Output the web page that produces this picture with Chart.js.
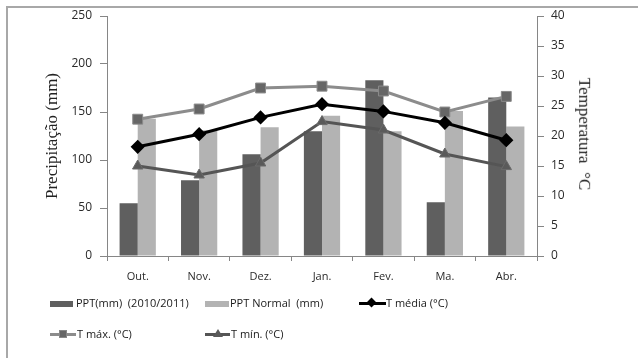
<!DOCTYPE html>
<html>
<head>
<meta charset="utf-8">
<script src="https://cdn.jsdelivr.net/npm/chart.js@4/dist/chart.umd.min.js"></script>
<style>
  html, body { margin: 0; padding: 0; background: #fff; }
  #wrap { position: relative; width: 638px; height: 358px; overflow: hidden; background: #fff; }
  #frame { position: absolute; left: 6px; top: 6px; width: 700px; height: 400px;
           border-top: 2px solid #a8a8a8; border-left: 2px solid #a8a8a8; box-sizing: border-box; }
  canvas { position: absolute; left: 0; top: 0; }
  .axis-title { position: absolute; font-family: "Liberation Serif", serif; font-size: 17px;
                color: #222; white-space: pre; transform-origin: center center; }
  .leg { position: absolute; font-family: "Open Sans", sans-serif; font-size: 11px; color: #1a1a1a;
         white-space: pre; line-height: 14px; }
  .sym { position: absolute; }
</style>
</head>
<body>
<div id="wrap">
  <div id="frame"></div>
  <canvas id="c" width="638" height="358"></canvas>

  <div class="axis-title" id="tLeft">Precipitação (mm)</div>
  <div class="axis-title" id="tRight">Temperatura  °C</div>

  <!-- legend row 1 -->
  <div class="sym" style="left:50px; top:301px; width:23px; height:6px; background:#5f5f5f;"></div>
  <div class="leg" style="left:76px; top:296px;">PPT(mm)  (2010/2011)</div>
  <div class="sym" style="left:205px; top:301px; width:24px; height:6px; background:#b3b3b3;"></div>
  <div class="leg" style="left:230px; top:296px;">PPT Normal  (mm)</div>
  <div class="sym" style="left:359px; top:302px; width:27px; height:3px; background:#000;"></div>
  <div class="sym" style="left:368px; top:299px; width:7px; height:7px; background:#000; transform:rotate(45deg);"></div>
  <div class="leg" style="left:386px; top:296px;">T média (°C)</div>

  <!-- legend row 2 -->
  <div class="sym" style="left:50px; top:333px; width:26px; height:3px; background:#8c8c8c;"></div>
  <div class="sym" style="left:59px; top:330px; width:8px; height:8px; background:#666; border:1px solid #888; box-sizing:border-box;"></div>
  <div class="leg" style="left:77px; top:327px;">T máx. (°C)</div>
  <div class="sym" style="left:205px; top:333px; width:25px; height:3px; background:#555;"></div>
  <div class="sym" style="left:213px; top:329px; width:0; height:0; border-left:5px solid transparent; border-right:5px solid transparent; border-bottom:8px solid #5a5a5a;"></div>
  <div class="leg" style="left:231px; top:327px;">T mín. (°C)</div>
</div>

<script>
// Months of the 2010/2011 season
const categories = ['Out.', 'Nov.', 'Dez.', 'Jan.', 'Fev.', 'Ma.', 'Abr.'];

// Precipitation (mm)
const pptSeason = [55, 79, 106, 130, 183, 56, 165];
const pptNormal = [143, 131, 134, 146, 130, 151, 135];

// Temperatures (°C)
const tMedia = [18.2, 20.3, 23.1, 25.3, 24.1, 22.2, 19.3];
const tMax = [22.8, 24.5, 28.0, 28.3, 27.5, 24.0, 26.6];
const tMin = [15.0, 13.5, 15.5, 22.4, 21.0, 17.0, 14.9];

// Axis tick values
const precipTicks = [0, 50, 100, 150, 200, 250];
const tempTicks = [0, 5, 10, 15, 20, 25, 30, 35, 40];

const axisGray = '#868686';
const tickFont = { family: 'Open Sans', size: 12 };

const chart = new Chart(document.getElementById('c'), {
  type: 'bar',
  data: {
    labels: categories,
    datasets: [
      { type: 'line', label: 'T média (°C)', data: tMedia, yAxisID: 'yT', order: 0,
        borderColor: '#000', borderWidth: 3, backgroundColor: '#000',
        pointStyle: 'rectRot', pointRadius: 5, pointBorderColor: '#000', pointBackgroundColor: '#000', tension: 0 },
      { type: 'line', label: 'T máx. (°C)', data: tMax, yAxisID: 'yT', order: 1,
        borderColor: '#8c8c8c', borderWidth: 3,
        pointStyle: 'rect', pointRadius: 7, pointBorderWidth: 1,
        pointBorderColor: '#8a8a8a', pointBackgroundColor: '#666', tension: 0 },
      { type: 'line', label: 'T mín. (°C)', data: tMin, yAxisID: 'yT', order: 1,
        borderColor: '#555', borderWidth: 3,
        pointStyle: 'triangle', pointRadius: 6, pointBorderWidth: 1,
        pointBorderColor: '#6a6a6a', pointBackgroundColor: '#5a5a5a', tension: 0 },
      { label: 'PPT(mm) (2010/2011)', data: pptSeason, yAxisID: 'yP', order: 3,
        backgroundColor: '#5f5f5f', categoryPercentage: 0.59, barPercentage: 1 },
      { label: 'PPT Normal (mm)', data: pptNormal, yAxisID: 'yP', order: 3,
        backgroundColor: '#b3b3b3', categoryPercentage: 0.59, barPercentage: 1 }
    ]
  },
  options: {
    responsive: false,
    animation: false,
    devicePixelRatio: 1,
    layout: { padding: { top: 16, left: 0, right: 0, bottom: 0 } },
    plugins: { legend: { display: false }, tooltip: { enabled: false } },
    scales: {
      x: {
        grid: { display: true, drawOnChartArea: false, offset: true, tickLength: 5, color: axisGray },
        border: { color: axisGray, width: 1 },
        ticks: { font: { family: 'Open Sans', size: 11 }, color: '#2a2a2a', padding: 9, maxRotation: 0 },
        afterFit: s => { s.height = 102; }
      },
      yP: {
        position: 'left', min: 0, max: 250,
        grid: { drawOnChartArea: false, tickLength: 7, color: axisGray },
        border: { color: axisGray, width: 1 },
        ticks: { font: tickFont, color: '#2a2a2a', padding: 8 },
        afterBuildTicks: s => { s.ticks = precipTicks.map(v => ({ value: v })); },
        afterFit: s => { s.width = 107; }
      },
      yT: {
        position: 'right', min: 0, max: 40,
        grid: { drawOnChartArea: false, tickLength: 7, color: axisGray },
        border: { color: axisGray, width: 1 },
        ticks: { font: tickFont, color: '#2a2a2a', padding: 7 },
        afterBuildTicks: s => { s.ticks = tempTicks.map(v => ({ value: v })); },
        afterFit: s => { s.width = 101; }
      }
    }
  }
});

// Position the rotated axis titles beside the plot area
function placeTitle(el, cx, cy, deg) {
  const w = el.offsetWidth, h = el.offsetHeight;
  el.style.left = (cx - w / 2) + 'px';
  el.style.top = (cy - h / 2) + 'px';
  el.style.transform = 'rotate(' + deg + 'deg)';
}
const area = chart.chartArea;
const midY = (area.top + area.bottom) / 2;
placeTitle(document.getElementById('tLeft'), 52, midY, -90);
placeTitle(document.getElementById('tRight'), 584, midY - 2, 90);
</script>
</body>
</html>
